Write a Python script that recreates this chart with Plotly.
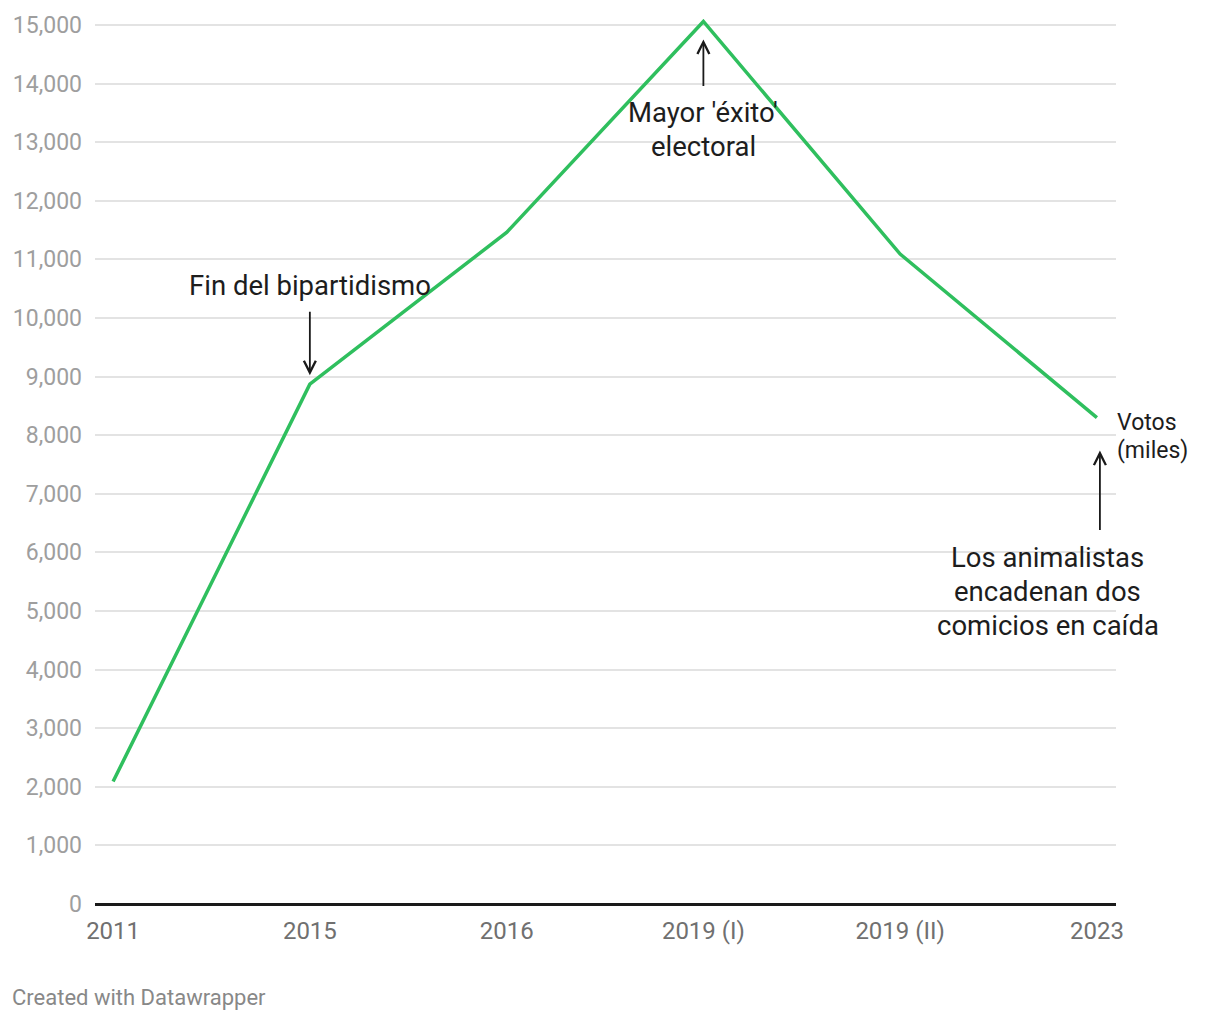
import plotly.graph_objects as go

categories = ["2011", "2015", "2016", "2019 (I)", "2019 (II)", "2023"]
votos = [2090, 8870, 11460, 15060, 11090, 8300]
y_ticks = list(range(0, 16000, 1000))
y_tick_labels = [f"{v:,}" for v in y_ticks]

GREEN = "#2fbf5e"
FONT = "Roboto"

fig = go.Figure()
fig.add_trace(go.Scatter(
    x=list(range(len(categories))), y=votos, mode="lines",
    line=dict(color=GREEN, width=3.5), cliponaxis=False,
    hoverinfo="skip", showlegend=False,
))

ann = []
# arrows
arrow_style = dict(arrowhead=5, arrowsize=1.3, arrowwidth=1.8, arrowcolor="#1a1a1a")
ann.append(dict(x=1, y=votos[1], xref="x", yref="y", text="", showarrow=True,
                ax=0, ay=-74, standoff=9, **arrow_style))
ann.append(dict(x=3, y=votos[3], xref="x", yref="y", text="", showarrow=True,
                ax=0, ay=66, standoff=18, **arrow_style))
ann.append(dict(x=5, y=votos[5], xref="x", yref="y", text="", showarrow=True,
                ax=0, ay=114, standoff=33, xshift=3, **arrow_style))


def text_lines(idx, lines, first_shift, spacing, xshift, font, xanchor="center"):
    for k, line in enumerate(lines):
        ann.append(dict(x=idx, y=votos[idx], xref="x", yref="y", text=line,
                        showarrow=False, yshift=first_shift - k * spacing, xshift=xshift,
                        xanchor=xanchor, yanchor="middle", font=font))


tfont = dict(family=FONT, size=27.5, color="#1d1d1d")
text_lines(1, ["Fin del bipartidismo"], 99, 34, 0, tfont)
text_lines(3, ["Mayor 'éxito'", "electoral"], -91, 34, 0, tfont)
text_lines(5, ["Los animalistas", "encadenan dos", "comicios en caída"], -140, 34, -49, tfont)
vfont = dict(family=FONT, size=23, color="#1d1d1d")
text_lines(5, ["Votos", "(miles)"], -5, 28, 18, vfont, xanchor="left")

ann.append(dict(x=0, y=0, xref="paper", yref="paper", text="Created with Datawrapper",
                showarrow=False, xanchor="left", yanchor="middle", xshift=-85, yshift=-93,
                font=dict(family=FONT, size=22, color="#888888")))

fig.update_layout(
    width=1212, height=1012,
    margin=dict(l=87, r=104, t=11, b=116),
    paper_bgcolor="white", plot_bgcolor="white",
    font=dict(family=FONT),
    annotations=ann,
    xaxis=dict(
        range=[-0.092, 5.097], tickmode="array",
        tickvals=list(range(len(categories))), ticktext=categories,
        showgrid=False, zeroline=False, showline=False, ticks="",
        tickfont=dict(family=FONT, size=24, color="#707070"),
        ticklabelstandoff=10, automargin=False,
    ),
    yaxis=dict(
        range=[0, 15102], tickmode="array", tickvals=y_ticks, ticktext=y_tick_labels,
        showgrid=True, gridcolor="#e3e3e3", gridwidth=1.5,
        zeroline=True, zerolinecolor="#1a1a1a", zerolinewidth=2.5,
        showline=False, ticks="",
        tickfont=dict(family=FONT, size=23, color="#9e9e9e"),
        ticklabelstandoff=12, automargin=False,
    ),
)

fig.write_html("out.html")
